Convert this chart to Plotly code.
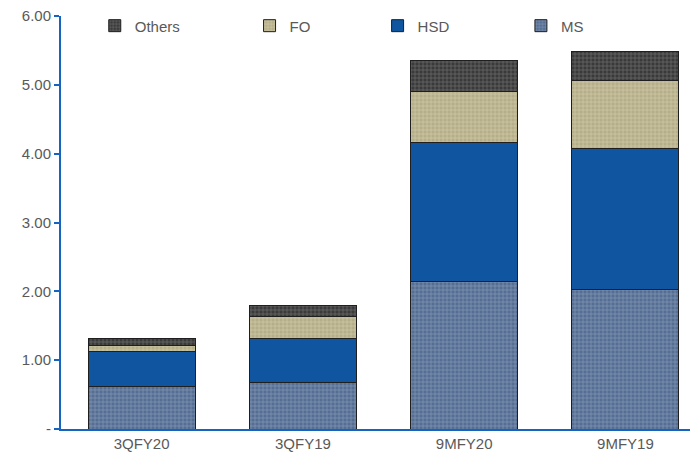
import plotly.graph_objects as go

categories = ["3QFY20", "3QFY19", "9MFY20", "9MFY19"]
ms = [0.62, 0.67, 2.14, 2.02]
hsd = [0.50, 0.64, 2.02, 2.06]
fo = [0.10, 0.33, 0.74, 0.98]
others = [0.10, 0.16, 0.46, 0.43]
y_ticks = [0, 1, 2, 3, 4, 5, 6]
y_labels = ["-", "1.00", "2.00", "3.00", "4.00", "5.00", "6.00"]

series = [
    ("MS", ms, "#546e94", "#8799b6", "+", "legend4", 0.722),
    ("HSD", hsd, "#0f55a0", None, "", "legend3", 0.497),
    ("FO", fo, "#b5ae88", "#d3cdaa", "+", "legend2", 0.296),
    ("Others", others, "#3a3a3a", "#6e6e6e", "+", "legend", 0.053),
]

fig = go.Figure()
legend_cfg = {}
for name, vals, bg, fg, shape, leg, lx in series:
    marker = dict(color=bg, line=dict(color="#1f1f1f", width=1))
    if shape:
        marker["pattern"] = dict(shape=shape, fgcolor=fg, bgcolor=bg, size=4, solidity=0.3, fillmode="replace")
    fig.add_trace(go.Bar(name=name, x=categories, y=vals, marker=marker, width=0.663,
                         legend=leg, showlegend=True))
    legend_cfg[leg] = dict(
        x=lx, y=0.976, xanchor="left", yanchor="middle", orientation="h",
        font=dict(size=15, color="#595959", family="Liberation Sans, Arial, sans-serif"),
        bgcolor="rgba(0,0,0,0)", itemwidth=30,
    )

fig.update_layout(
    barmode="stack",
    showlegend=True,
    width=690, height=449,
    margin=dict(l=53, r=0, t=8, b=28, autoexpand=False),
    plot_bgcolor="white", paper_bgcolor="white",
    font=dict(family="Liberation Sans, Arial, sans-serif", size=15, color="#595959"),
    **legend_cfg,
)
fig.update_yaxes(
    range=[0, 6], tickvals=y_ticks, ticktext=y_labels,
    showgrid=False, zeroline=False,
    showline=True, linecolor="#1565c0", linewidth=2,
    ticks="outside", tickcolor="#1565c0", ticklen=5, tickwidth=2,
    tickfont=dict(color="#595959", size=15), automargin=False,
    ticklabeloverflow="allow",
)
fig.update_xaxes(
    range=[-0.5, 3.45],
    showgrid=False, showline=True, linecolor="#1565c0", linewidth=2,
    ticks="", tickfont=dict(color="#595959", size=15), automargin=False,
)
fig.write_html("out.html")
